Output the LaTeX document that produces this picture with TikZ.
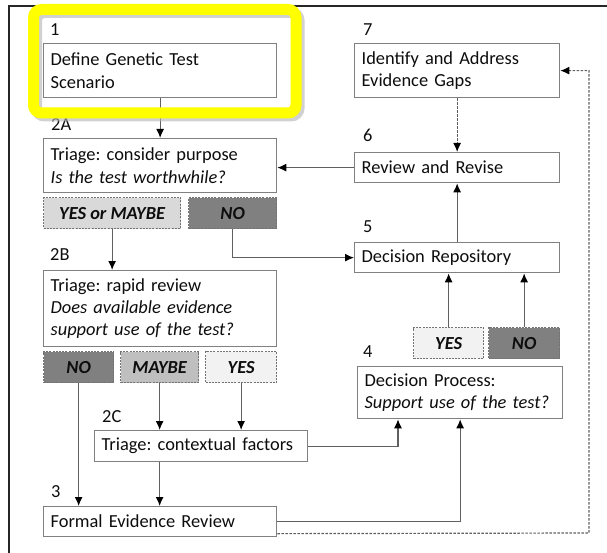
\documentclass[tikz,border=0pt]{standalone}
\usepackage{fontspec}
\setmainfont{Carlito}
\usepackage{tikz}
\usetikzlibrary{arrows.meta, positioning}
\frenchspacing

\definecolor{trait}{RGB}{96,96,96}
\definecolor{contour}{RGB}{128,128,128}
\definecolor{surligne}{RGB}{255,255,0}
\definecolor{gfonce}{RGB}{128,128,128}
\definecolor{gmoyen}{RGB}{191,191,191}
\definecolor{gclair}{RGB}{217,217,217}
\definecolor{gpale}{RGB}{242,242,242}

\begin{document}
\begin{tikzpicture}[x=1pt, y=-1pt,
    every node/.style={font=\fontsize{18.4}{22.4}\selectfont, text=black!95},
    boite/.style={draw=contour, line width=1.3pt, fill=white, anchor=north west, inner xsep=7pt, inner ysep=0pt, align=left},
    gauche/.style={boite, minimum width=233pt, text width=219pt},
    droite/.style={boite, minimum width=205pt, text width=191pt},
    reponse/.style={draw=black!55, line width=1.3pt, dash pattern=on 2pt off 1.2pt, anchor=north west, inner sep=0pt, minimum height=31pt, font=\fontsize{18.4}{22.4}\selectfont\bfseries\itshape},
    num/.style={anchor=west, inner sep=0pt},
    fleche/.style={draw=trait, line width=1.2pt, -{Latex[black, length=9pt, width=8pt]}},
    pointille/.style={fleche, dash pattern=on 2.5pt off 1.5pt}]

    % Cadre
    \useasboundingbox (0,0) rectangle (607,553);
    \draw[line width=2pt, black!85] (9,600) -- (9,6) -- (650,6);

    % Colonne de gauche
    \node[num] (n1) at (50,30) {1};
    \node[gauche, minimum height=54pt] (b1) at (43,43) {Define Genetic Test\\Scenario};
    \node[num] (n2a) at (51,125) {2A};
    \node[gauche, minimum height=54pt] (b2a) at (43,138) {Triage: consider purpose\\\textit{Is the test worthwhile?}};
    \node[reponse, minimum width=137pt, fill=gclair] (oupeut) at (43,197) {YES or MAYBE};
    \node[reponse, minimum width=88pt, fill=gfonce] (nonA) at (188,197) {NO};
    \node[num] (n2b) at (50,255) {2B};
    \node[gauche, minimum height=76pt] (b2b) at (43,270) {Triage: rapid review\\\textit{Does available evidence}\\\textit{support use of the test?}};
    \node[reponse, minimum width=70pt, fill=gfonce] (nonB) at (43,351) {NO};
    \node[reponse, minimum width=78pt, fill=gmoyen] (peutB) at (120,351) {MAYBE};
    \node[reponse, minimum width=71pt, fill=gpale] (ouiB) at (205,351) {YES};
    \node[num] (n2c) at (102,417) {2C};
    \node[boite, minimum width=213pt, text width=199pt, minimum height=31pt] (b2c) at (94,430) {Triage: contextual factors};
    \node[num] (n3) at (51,492) {3};
    \node[gauche, minimum height=30pt] (b3) at (43,506) {Formal Evidence Review};

    % Colonne de droite
    \node[num] (n7) at (363,30) {7};
    \node[droite, minimum height=54pt] (b7) at (354,43) {Identify and Address\\Evidence Gaps};
    \node[num] (n6) at (363,135) {6};
    \node[droite, minimum height=30pt] (b6) at (354,152) {Review and Revise};
    \node[num] (n5) at (363,227) {5};
    \node[droite, minimum height=30pt] (b5) at (354,242) {Decision Repository};
    \node[reponse, minimum width=70pt, fill=gpale] (oui4) at (413,327) {YES};
    \node[reponse, minimum width=71pt, fill=gfonce] (non4) at (488,327) {NO};
    \node[num] (n4) at (363,352) {4};
    \node[droite, minimum width=204pt, minimum height=52pt] (b4) at (357,366) {Decision Process:\\\textit{Support use of the test?}};

    % Fleches
    \draw[fleche] (b1) -- (b2a);
    \draw[fleche] (b6.west) -- (b6.west -| b2a.east);
    \draw[fleche] (oupeut.south) -- (oupeut.south |- b2b.north);
    \draw[fleche] (nonA.south) |- (b5.west);
    \draw[fleche] (nonB.south) -- (nonB.south |- b3.north);
    \draw[fleche] (peutB.south) -- (peutB.south |- b2c.north);
    \draw[fleche] (ouiB.south) -- (ouiB.south |- b2c.north);
    \draw[fleche] (peutB.south |- b2c.south) -- (peutB.south |- b3.north);
    \draw[fleche] (b2c.east) -| ([xshift=41pt]b4.south west);
    \draw[fleche] (b3.east) -| (b4.south);
    \draw[fleche] (b5) -- (b6);
    \draw[fleche] (oui4.north) -- (oui4.north |- b5.south);
    \draw[fleche] (non4.north) -- (non4.north |- b5.south);
    \draw[pointille] (b7) -- (b6);
    \coordinate (coin) at (589,533);
    \draw[pointille] ([yshift=-12pt]b3.east) -- (coin) |- (b7.east);

    % Surlignage
    \draw[black!30, opacity=0.6, line width=11pt, rounded corners=8pt] (36.5,12.5) rectangle (299,116);
    \draw[surligne, line width=11pt, rounded corners=8pt] (33.5,9.5) rectangle (296,113);
\end{tikzpicture}
\end{document}
